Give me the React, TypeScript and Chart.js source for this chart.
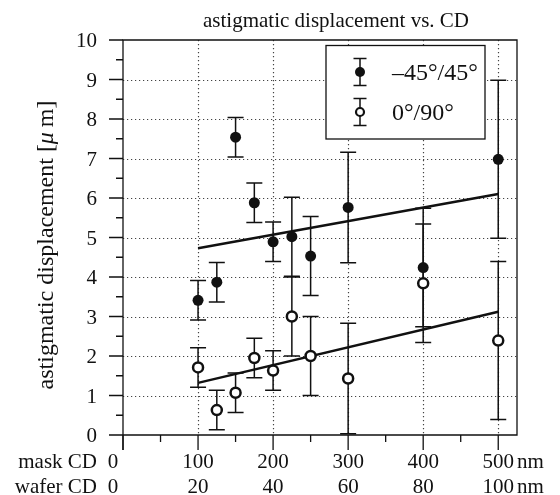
import React, { useEffect, useRef } from "react";
import { Chart, registerables } from "chart.js";

Chart.register(...registerables);

// ---- data ----
const maskCD = [100, 125, 150, 175, 200, 225, 250, 300, 400, 500];
const diagValues = [3.41, 3.87, 7.54, 5.88, 4.89, 5.02, 4.53, 5.76, 4.24, 6.98]; // -45°/45°
const diagErrors = [0.5, 0.5, 0.5, 0.5, 0.5, 1.0, 1.0, 1.4, 1.5, 2.0];
const orthoValues = [1.71, 0.63, 1.07, 1.95, 1.63, 3.0, 2.0, 1.43, 3.84, 2.39]; // 0°/90°
const orthoErrors = [0.5, 0.5, 0.5, 0.5, 0.5, 1.0, 1.0, 1.4, 1.5, 2.0];
const diagFitX = [100, 500];
const diagFitY = [4.73, 6.1];
const orthoFitX = [100, 500];
const orthoFitY = [1.32, 3.12];
const yTicks = [0, 1, 2, 3, 4, 5, 6, 7, 8, 9, 10];
const maskTicks = [0, 100, 200, 300, 400, 500];
const waferTicks = [0, 20, 40, 60, 80, 100];
const seriesLabels = ["\u201345\u00b0/45\u00b0", "0\u00b0/90\u00b0"];
const titleText = "astigmatic displacement vs. CD";

const SERIF = "'Liberation Serif', 'Times New Roman', serif";

const decorPlugin = {
  id: "decor",
  beforeDatasetsDraw(chart: any) {
    const { ctx, chartArea: a, scales } = chart;
    const xs = scales.x;
    const ys = scales.y;
    ctx.save();
    // dotted grid
    ctx.strokeStyle = "#444";
    ctx.lineWidth = 1.2;
    ctx.setLineDash([1.2, 2.8]);
    for (let v = 1; v <= 9; v++) {
      const y = Math.round(ys.getPixelForValue(v)) + 0.5;
      ctx.beginPath();
      ctx.moveTo(a.left, y);
      ctx.lineTo(a.right, y);
      ctx.stroke();
    }
    for (const v of maskTicks) {
      if (v === 0) continue;
      const x = Math.round(xs.getPixelForValue(v)) + 0.5;
      ctx.beginPath();
      ctx.moveTo(x, a.top);
      ctx.lineTo(x, a.bottom);
      ctx.stroke();
    }
    ctx.setLineDash([]);
    // error bars
    ctx.strokeStyle = "#111";
    ctx.lineWidth = 1.5;
    const cap = 8;
    const drawBars = (vals: number[], errs: number[]) => {
      vals.forEach((v, i) => {
        const x = xs.getPixelForValue(maskCD[i]);
        const y1 = ys.getPixelForValue(v + errs[i]);
        const y0 = ys.getPixelForValue(Math.max(0, v - errs[i]));
        ctx.beginPath();
        ctx.moveTo(x, y1);
        ctx.lineTo(x, y0);
        ctx.moveTo(x - cap, y1);
        ctx.lineTo(x + cap, y1);
        ctx.moveTo(x - cap, y0);
        ctx.lineTo(x + cap, y0);
        ctx.stroke();
      });
    };
    drawBars(diagValues, diagErrors);
    drawBars(orthoValues, orthoErrors);
    ctx.restore();
  },
  afterDatasetsDraw(chart: any) {
    const { ctx, chartArea: a, scales } = chart;
    const xs = scales.x;
    const ys = scales.y;
    ctx.save();
    ctx.strokeStyle = "#111";
    ctx.fillStyle = "#111";
    ctx.lineWidth = 1.3;
    // frame
    ctx.beginPath();
    ctx.moveTo(a.left, a.bottom + 15);
    ctx.lineTo(a.left, a.top);
    ctx.lineTo(a.right, a.top);
    ctx.lineTo(a.right, a.bottom);
    ctx.lineTo(a.left, a.bottom);
    ctx.stroke();
    // y ticks
    ctx.beginPath();
    for (const v of yTicks) {
      const y = ys.getPixelForValue(v);
      ctx.moveTo(a.left - 14, y);
      ctx.lineTo(a.left, y);
      if (v < 10) {
        const ym = ys.getPixelForValue(v + 0.5);
        ctx.moveTo(a.left - 7, ym);
        ctx.lineTo(a.left, ym);
      }
    }
    // x ticks
    for (const v of maskTicks) {
      const x = xs.getPixelForValue(v);
      ctx.moveTo(x, a.bottom);
      ctx.lineTo(x, a.bottom + 15);
      if (v < 500) {
        const xm = xs.getPixelForValue(v + 50);
        ctx.moveTo(xm, a.bottom);
        ctx.lineTo(xm, a.bottom + 7);
      }
    }
    ctx.stroke();

    // y tick labels
    ctx.font = `21px ${SERIF}`;
    ctx.textAlign = "right";
    ctx.textBaseline = "alphabetic";
    for (const v of yTicks) {
      ctx.fillText(String(v), a.left - 26, ys.getPixelForValue(v) + 7);
    }
    // x tick labels (two rows)
    ctx.textAlign = "center";
    const row1 = a.bottom + 33;
    const row2 = a.bottom + 58;
    maskTicks.forEach((v, i) => {
      const x = xs.getPixelForValue(v) + (v === 0 ? -10 : 0);
      ctx.fillText(String(v), x, row1);
      ctx.fillText(String(waferTicks[i]), x, row2);
    });
    ctx.textAlign = "left";
    const xEnd = xs.getPixelForValue(500);
    ctx.fillText("nm", xEnd + ctx.measureText("500").width / 2 + 3, row1);
    ctx.fillText("nm", xEnd + ctx.measureText("100").width / 2 + 3, row2);
    ctx.textAlign = "right";
    ctx.fillText("mask CD", 97, row1);
    ctx.fillText("wafer CD", 97, row2);

    // title
    ctx.textAlign = "center";
    ctx.font = `21px ${SERIF}`;
    ctx.fillText(titleText, 336, 27);

    // y axis title with italic mu
    ctx.save();
    ctx.translate(53, 245);
    ctx.rotate(-Math.PI / 2);
    const fNorm = `24px ${SERIF}`;
    const fIt = `italic 24px ${SERIF}`;
    const parts: [string, string][] = [
      ["astigmatic displacement [", fNorm],
      ["\u03bc", fIt],
      ["\u2009m]", fNorm],
    ];
    let total = 0;
    for (const [t, f] of parts) {
      ctx.font = f;
      total += ctx.measureText(t).width;
    }
    let cx = -total / 2;
    ctx.textAlign = "left";
    for (const [t, f] of parts) {
      ctx.font = f;
      ctx.fillText(t, cx, 0);
      cx += ctx.measureText(t).width;
    }
    ctx.restore();

    // legend
    const lx0 = 326, ly0 = 45.5, lw = 159, lh = 93.5;
    ctx.fillStyle = "#fff";
    ctx.fillRect(lx0, ly0, lw, lh);
    ctx.strokeStyle = "#111";
    ctx.lineWidth = 1.3;
    ctx.strokeRect(lx0, ly0, lw, lh);
    const items = [
      { y: 72, filled: true, label: seriesLabels[0] },
      { y: 112, filled: false, label: seriesLabels[1] },
    ];
    for (const it of items) {
      const mx = 360;
      ctx.lineWidth = 1.5;
      ctx.beginPath();
      ctx.moveTo(mx, it.y - 13.5);
      ctx.lineTo(mx, it.y + 13.5);
      ctx.moveTo(mx - 6.5, it.y - 13.5);
      ctx.lineTo(mx + 6.5, it.y - 13.5);
      ctx.moveTo(mx - 6.5, it.y + 13.5);
      ctx.lineTo(mx + 6.5, it.y + 13.5);
      ctx.stroke();
      ctx.beginPath();
      if (it.filled) {
        ctx.arc(mx, it.y, 5, 0, Math.PI * 2);
        ctx.fillStyle = "#111";
        ctx.fill();
      } else {
        ctx.arc(mx, it.y, 4, 0, Math.PI * 2);
        ctx.fillStyle = "#fff";
        ctx.fill();
        ctx.lineWidth = 2.2;
        ctx.stroke();
      }
      ctx.fillStyle = "#111";
      ctx.font = `24px ${SERIF}`;
      ctx.textAlign = "left";
      ctx.fillText(it.label, 392, it.y + 8);
    }
    ctx.restore();
  },
};

export default function App() {
  const ref = useRef<HTMLCanvasElement | null>(null);
  useEffect(() => {
    document.body.style.margin = "0";
    if (!ref.current) return;
    const chart = new Chart(ref.current, {
      type: "scatter",
      data: {
        datasets: [
          {
            label: seriesLabels[0],
            data: maskCD.map((x, i) => ({ x, y: diagValues[i] })),
            pointRadius: 5.5,
            pointBackgroundColor: "#111",
            pointBorderWidth: 0,
            order: 1,
          },
          {
            label: seriesLabels[1],
            data: maskCD.map((x, i) => ({ x, y: orthoValues[i] })),
            pointRadius: 5,
            pointBackgroundColor: "#fff",
            pointBorderColor: "#111",
            pointBorderWidth: 2.5,
            order: 1,
          },
          {
            type: "line",
            label: "fit1",
            data: diagFitX.map((x, i) => ({ x, y: diagFitY[i] })),
            borderColor: "#111",
            borderWidth: 2.5,
            pointRadius: 0,
            order: 2,
          },
          {
            type: "line",
            label: "fit2",
            data: orthoFitX.map((x, i) => ({ x, y: orthoFitY[i] })),
            borderColor: "#111",
            borderWidth: 2.5,
            pointRadius: 0,
            order: 2,
          },
        ] as any,
      },
      options: {
        animation: false,
        responsive: false,
        devicePixelRatio: 1,
        layout: { padding: { left: 123, right: 43, top: 40, bottom: 60 } },
        plugins: { legend: { display: false }, tooltip: { enabled: false } },
        scales: {
          x: { type: "linear", min: 0, max: 525, display: false },
          y: { type: "linear", min: 0, max: 10, display: false },
        },
      },
      plugins: [decorPlugin],
    });
    return () => chart.destroy();
  }, []);
  return (
    <div style={{ width: 560, height: 495 }}>
      <canvas ref={ref} width={560} height={495} />
    </div>
  );
}
